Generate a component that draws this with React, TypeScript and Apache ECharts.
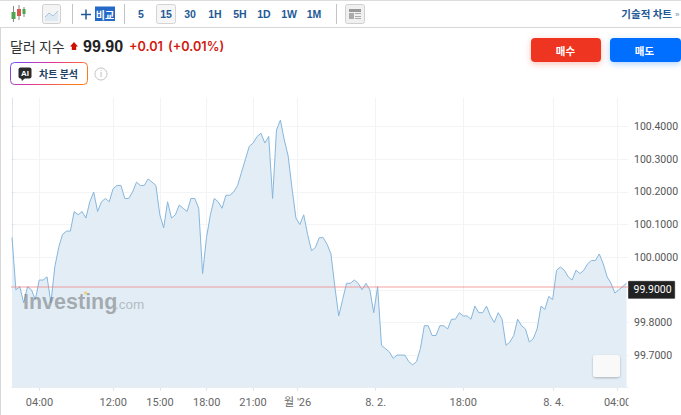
import React, { useEffect, useRef } from "react";
import * as echarts from "echarts";

const dollarIndex = [
  100.06, 99.9, 99.91, 99.86, 99.91, 99.9, 99.87, 99.93, 99.93, 99.94, 99.86, 99.97, 100.03, 100.07, 100.08, 100.08,
  100.14, 100.13, 100.14, 100.12, 100.17, 100.2, 100.14, 100.17, 100.18, 100.17, 100.21, 100.22, 100.22, 100.18,
  100.18, 100.2, 100.23, 100.22, 100.22, 100.24, 100.23, 100.22, 100.13, 100.09, 100.17, 100.12, 100.13, 100.16,
  100.15, 100.14, 100.18, 100.18, 100.15, 99.95, 100.06, 100.13, 100.18, 100.17, 100.15, 100.19, 100.19, 100.2,
  100.22, 100.26, 100.3, 100.34, 100.35, 100.37, 100.38, 100.35, 100.37, 100.18, 100.39, 100.42, 100.36, 100.31,
  100.21, 100.12, 100.1, 100.13, 100.07, 100.02, 100.03, 100.06, 100.06, 100.04, 100.01, 99.91, 99.82, 99.87, 99.92,
  99.92, 99.93, 99.92, 99.9, 99.92, 99.9, 99.83, 99.91, 99.73, 99.72, 99.71, 99.69, 99.7, 99.7, 99.7, 99.68, 99.67,
  99.68, 99.72, 99.79, 99.79, 99.76, 99.76, 99.79, 99.79, 99.78, 99.81, 99.81, 99.83, 99.82, 99.82, 99.81, 99.85,
  99.83, 99.83, 99.85, 99.82, 99.8, 99.83, 99.81, 99.73, 99.74, 99.76, 99.81, 99.79, 99.78, 99.74, 99.75, 99.78,
  99.85, 99.84, 99.88, 99.87, 99.96, 99.97, 99.96, 99.94, 99.93, 99.96, 99.95, 99.96, 99.98, 99.99, 99.99, 100.01,
  99.98, 99.94, 99.92, 99.89, 99.9, 99.91, 99.92,
];
const xTickPositions = [7.07, 26.04, 38.04, 50.05, 61.95, 73.44, 93.49, 116, 139.25, 155.7];
const xTickLabels = ["04:00", "12:00", "15:00", "18:00", "21:00", "월 '26", "8. 2.", "18:00", "8. 4.", "04:00"];
const yTicks = [99.7, 99.8, 99.9, 100.0, 100.1, 100.2, 100.3, 100.4];
const previousClose = 99.909;
const lastTag = 99.9;
const intervalButtons = ["5", "15", "30", "1H", "5H", "1D", "1W", "1M"];
const intervalCenters = [141, 166, 190, 215, 240, 264, 289, 314];

const LAT = '"Liberation Sans", "Noto Sans CJK KR", sans-serif';
const KR = '"Noto Sans CJK KR", "Liberation Sans", sans-serif';
const BLUE = "#1f5a96";

const txt = (text: string, x: number, y: number, fontSize: number, fill: string, fontWeight: any = "normal", extra: any = {}, fontFamily = LAT) => ({
  type: "text",
  z: 20,
  style: { text, x, y, fontSize, fill, fontWeight, fontFamily, textVerticalAlign: "middle", ...extra },
});
const box = (x: number, y: number, width: number, height: number, style: any, r = 0, extra: any = {}) => ({
  type: "rect",
  z: 19,
  shape: { x, y, width, height, r },
  style,
  ...extra,
});
const ln = (x1: number, y1: number, x2: number, y2: number, stroke: string, lineWidth = 1) => ({
  type: "line",
  z: 19,
  shape: { x1, y1, x2, y2 },
  style: { stroke, lineWidth },
});

function buildGraphics(): any[] {
  const g: any[] = [];
  g.push(ln(0, 0.5, 681, 0.5, "#dcdcdc"));
  g.push(ln(0, 27.5, 681, 27.5, "#d8d8d8"));
  g.push(ln(0.5, 27, 0.5, 415, "#d8d8d8"));
  for (const x of [72.5, 124.5, 336.5]) g.push(ln(x, 4, x, 24, "#c4c4c4"));
  // candle icon
  g.push(ln(13.5, 6, 13.5, 22, "#888"), ln(19, 5, 19, 20, "#888"), ln(24, 7, 24, 17, "#888"));
  g.push(box(11.5, 12, 4, 7, { fill: "#4ca64c" }), box(17, 9, 4, 7, { fill: "#d9534f" }), box(22.5, 9, 3, 5, { fill: "#4ca64c" }));
  // area icon
  g.push(box(42.5, 4.5, 18, 19, { fill: "#f4f4f4", stroke: "#d0d0d0" }, 2));
  g.push({ type: "polygon", z: 20, shape: { points: [[45, 17], [49, 13], [53, 16], [58, 11], [58, 21], [45, 21]] }, style: { fill: "#dfe9f2" } });
  g.push({ type: "polyline", z: 20, shape: { points: [[45, 17], [49, 13], [53, 16], [58, 11]] }, style: { stroke: "#a9c4dc", fill: "none", lineWidth: 1 } });
  // compare
  g.push(ln(81, 14.5, 91, 14.5, BLUE, 1.5), ln(86, 9.5, 86, 19.5, BLUE, 1.5));
  g.push(box(95, 6.5, 20, 14.5, { fill: "#2468c8" }));
  g.push(txt("비교", 105, 14, 10, "#fff", "bold", { textAlign: "center" }, KR));
  // interval buttons
  g.push(box(156.5, 4.5, 19, 19, { fill: "#f6f6f6", stroke: "#d4d4d4" }, 2));
  intervalButtons.forEach((b, i) => g.push(txt(b, intervalCenters[i], 14, 10.5, BLUE, "bold", { textAlign: "center" })));
  // layout icon
  g.push(box(345.5, 4.5, 19, 19, { fill: "#f0f0f0", stroke: "#d0d0d0" }, 2));
  g.push(box(349, 9, 12, 3, { fill: "#999" }), box(349, 13, 5, 6, { fill: "#aaa" }), box(355, 13, 6, 1, { fill: "#aaa" }), box(355, 16, 6, 1, { fill: "#aaa" }), box(355, 18, 6, 1, { fill: "#aaa" }));
  g.push(txt("기술적 차트", 672, 13.5, 10.5, BLUE, "bold", { textAlign: "right" }, KR));
  g.push(txt("»", 675, 14, 8, "#6a8bb0", "normal"));
  // title row
  g.push(txt("달러 지수", 10, 45.5, 14, "#333", "normal", {}, KR));
  g.push({ type: "polygon", z: 20, shape: { points: [[74, 42], [78, 46.5], [76.2, 46.5], [76.2, 50], [71.8, 50], [71.8, 46.5], [70, 46.5]] }, style: { fill: "#cc1100" } });
  g.push(txt("99.90", 83, 46, 16, "#222", "bold"));
  g.push(txt("+0.01", 129, 46, 12.7, "#d21a0e", 600, {}, "Inter"));
  g.push(txt("(+0.01%)", 168, 46, 12.7, "#d21a0e", 600, {}, "Inter"));
  // AI button
  g.push(box(10.5, 62.5, 77, 22, {
    fill: "#fff",
    lineWidth: 1,
    stroke: { type: "linear", x: 0, y: 0, x2: 1, y2: 0.3, colorStops: [{ offset: 0, color: "#6a4cff" }, { offset: 0.5, color: "#e0359a" }, { offset: 1, color: "#ff7a1a" }] },
  }, 4));
  g.push(box(18.5, 67.5, 13, 11, { fill: "#2b2b2b" }, 2));
  g.push({ type: "polygon", z: 20, shape: { points: [[21, 78], [25, 78], [22, 81]] }, style: { fill: "#2b2b2b" } });
  g.push(txt("AI", 25, 73.3, 8, "#fff", "bold", { textAlign: "center" }));
  g.push(txt("차트 분석", 39, 73, 10, "#1e3f66", "bold", {}, KR));
  g.push({ type: "circle", z: 20, shape: { cx: 101, cy: 74, r: 6 }, style: { fill: "#fff", stroke: "#c4c4c4", lineWidth: 1 } });
  g.push(txt("i", 101, 74, 9, "#b4b4b4", "normal", { textAlign: "center" }));
  // buy / sell
  g.push(box(531, 38, 70, 24, { fill: "#ee3524", shadowBlur: 6, shadowColor: "rgba(238,53,36,0.3)", shadowOffsetY: 2 }, 4));
  g.push(txt("매수", 565.5, 50.5, 10.5, "#fff", "bold", { textAlign: "center" }, KR));
  g.push(box(610, 38, 71, 24, { fill: "#006eff", shadowBlur: 6, shadowColor: "rgba(0,110,255,0.3)", shadowOffsetY: 2 }, 4));
  g.push(txt("매도", 644.5, 50.5, 10.5, "#fff", "bold", { textAlign: "center" }, KR));
  // watermark
  g.push(txt("Investing", 23, 302, 21.5, "rgba(120,125,130,0.6)", "bold", { letterSpacing: -0.6 }));
  g.push(txt(".com", 115, 304, 13.5, "rgba(130,135,140,0.5)", "normal", {}));
  g.push({ type: "circle", z: 21, shape: { cx: 85.5, cy: 293, r: 1.6 }, style: { fill: "#f0d080" } });
  // overlays: mini button and clipped last tick
  g.push(box(593, 355, 27, 22, { fill: "#f9f9f9", shadowBlur: 2, shadowColor: "rgba(0,0,0,0.25)", shadowOffsetY: 1 }, 3));
  g.push(box(628.5, 391, 52, 18, { fill: "#fff" }, 0, { z: 30 }));
  return g;
}

export default function App() {
  const ref = useRef<HTMLDivElement>(null);
  useEffect(() => {
    document.body.style.margin = "0";
    const chart = echarts.init(ref.current!, undefined, { renderer: "svg" });
    chart.setOption({
      animation: false,
      backgroundColor: "#fff",
      grid: { left: 11, right: 52.5, top: 98, height: 289.7, outerBoundsMode: "none" },
      xAxis: {
        type: "value",
        min: -0.26,
        max: 158.5,
        axisLine: { show: true, lineStyle: { color: "#eef0f3" } },
        axisTick: { show: true, customValues: xTickPositions, length: 3, lineStyle: { color: "#dfe3e8" } },
        splitLine: { show: true, lineStyle: { color: "#f1f3f5", width: 1 } },
        axisLabel: {
          customValues: xTickPositions,
          margin: 9,
          fontSize: 11,
          color: "#666",
          fontFamily: 'Roboto, "Noto Sans CJK KR", sans-serif',
          hideOverlap: false,
          formatter: (v: number) => xTickLabels[xTickPositions.indexOf(v)] ?? "",
        },
      },
      yAxis: {
        type: "value",
        position: "right",
        min: 99.6,
        max: 100.488,
        axisLine: { show: true, lineStyle: { color: "#dfe3ee" } },
        axisTick: { show: true, customValues: yTicks, length: 2, lineStyle: { color: "#dfe3ee" } },
        splitLine: { show: true, lineStyle: { color: "#f3f4f5", width: 1 } },
        axisLabel: {
          customValues: yTicks,
          margin: 0,
          align: "left",
          formatter: (v: number) => (Math.abs(v - lastTag) < 1e-6 ? `{tag|${v.toFixed(4)}}` : `{n|${v.toFixed(4)}}`),
          rich: {
            n: { fontSize: 10.5, color: "#555", fontFamily: "Roboto, sans-serif", padding: [0, 0, 0, 5.5] },
            tag: { fontSize: 10.5, color: "#fff", fontFamily: "Roboto, sans-serif", backgroundColor: "#222", borderColor: "#777", borderWidth: 0.5, padding: [3, 3, 3, 5] },
          },
        },
      },
      series: [
        {
          type: "line",
          data: dollarIndex.map((v, i) => [i, v]),
          showSymbol: false,
          symbol: "none",
          lineStyle: { color: "#86b6dc", width: 1 },
          areaStyle: { color: "#e3edf5", opacity: 1 },
          silent: true,
          markLine: {
            silent: true,
            symbol: "none",
            label: { show: false },
            lineStyle: { color: "rgba(240,130,130,0.5)", width: 1.5, type: "solid" },
            data: [{ yAxis: previousClose }],
          },
        },
      ],
      graphic: buildGraphics(),
    });
    return () => chart.dispose();
  }, []);
  return <div ref={ref} style={{ position: "absolute", left: 0, top: 0, width: 681, height: 415 }} />;
}
